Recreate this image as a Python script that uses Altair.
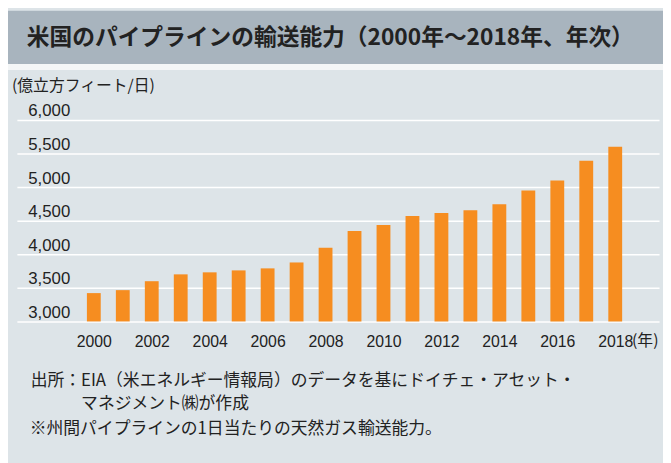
import altair as alt
import pandas as pd

# ---- data ----
years = list(range(2000, 2019))
capacity = [3422, 3466, 3599, 3701, 3731, 3760, 3790, 3878, 4098, 4348,
            4437, 4569, 4613, 4657, 4746, 4951, 5099, 5393, 5599]
y_ticks = [3000, 3500, 4000, 4500, 5000, 5500, 6000]
x_ticks = list(range(2000, 2019, 2))
title_text = "米国のパイプラインの輸送能力（2000年～2018年、年次）"
unit_text = "(億立方フィート/日)"
year_unit = "(年)"
note_lines = [
    "出所：EIA（米エネルギー情報局）のデータを基にドイチェ・アセット・",
    "マネジメント㈱が作成",
    "※州間パイプラインの1日当たりの天然ガス輸送能力。",
]

# ---- style ----
BAND = "#a8b4be"
PANEL = "#dde4e8"
BAR = "#f68d20"
TEXT = "#222222"
JP = "Noto Sans CJK JP"
NUM = "Liberation Sans"

W, H = 650, 204

df = pd.DataFrame({"year": years, "capacity": capacity})

x_enc = alt.X(
    "year:Q",
    scale=alt.Scale(domain=[1997.515, 2019.342], nice=False, zero=False),
    axis=alt.Axis(values=x_ticks, format="d", title=None, domain=False,
                  ticks=False, tickSize=0, grid=False, labelFont=NUM,
                  labelFontSize=16, labelColor=TEXT, labelPadding=20,
                  labelBaseline="middle", labelFlush=False, labelOverlap=False),
)

bars = alt.Chart(df).mark_bar(size=14, color=BAR).encode(
    x=x_enc,
    y=alt.Y(
        "capacity:Q",
        scale=alt.Scale(domain=[3000, 6000], nice=False, zero=False),
        axis=alt.Axis(values=y_ticks, format=",d", title=None, domain=False,
                      ticks=False, tickSize=0, grid=True, gridColor="white",
                      gridWidth=1.5, labelAlign="left", labelBaseline="alphabetic",
                      labelPadding=-11, labelOffset=-4, labelFont=NUM,
                      labelFontSize=17, labelColor=TEXT, labelFlush=False,
                      labelOverlap=False, labelBound=False),
    ),
    y2=alt.datum(3000),
)

one = pd.DataFrame({"a": [0]})

band = alt.Chart(one).mark_rect(color=BAND).encode(
    x=alt.value(-9), x2=alt.value(660), y=alt.value(-110.5), y2=alt.value(-56.5))
strip = alt.Chart(one).mark_rect(color="#f4f6f7").encode(
    x=alt.value(-9), x2=alt.value(660), y=alt.value(-56.5), y2=alt.value(-50.5))

nen = alt.Chart(pd.DataFrame({"year": [2018], "t": [year_unit]})).mark_text(
    align="left", baseline="middle", dx=17, fontSize=16, font=JP, color=TEXT
).encode(x=x_enc, y=alt.value(224), text="t:N")


def label(text, x, y, size, weight="normal"):
    return alt.Chart(pd.DataFrame({"t": [text]})).mark_text(
        align="left", baseline="middle", fontSize=size, fontWeight=weight,
        font=JP, color=TEXT
    ).encode(x=alt.value(x), y=alt.value(y), text="t:N")


texts = [
    label(title_text, 10, -82.5, 23, "bold"),
    label(unit_text, -5, -34, 16),
    label(note_lines[0], 14, 264, 17),
    label(note_lines[1], 65, 288, 17),
    label(note_lines[2], 13, 312.5, 17),
]

chart = alt.layer(band, strip, bars, nen, *texts).properties(
    width=W, height=H,
    padding={"left": 9, "top": 110.5, "right": 4, "bottom": 140.5},
    autosize=alt.AutoSizeParams(type="none"),
).configure(background=PANEL).configure_view(stroke=None)

chart.save("out.html", embed_options={"renderer": "svg", "actions": False})
